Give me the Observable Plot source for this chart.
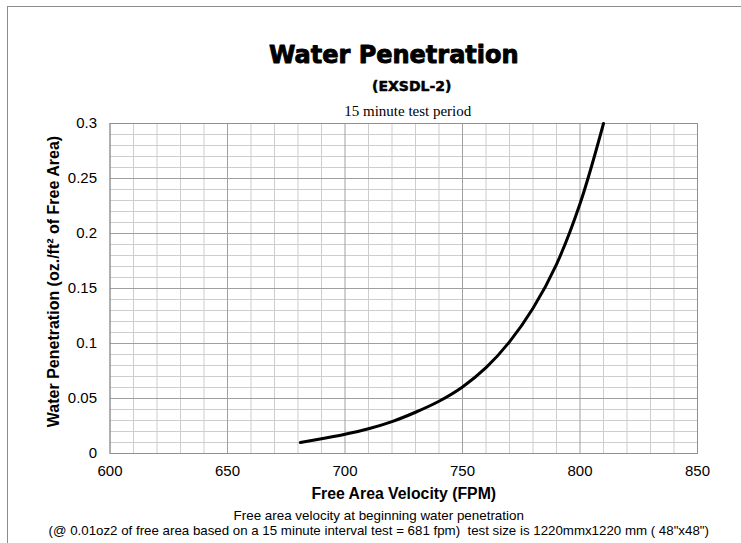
<!DOCTYPE html>
<html>
<head>
<meta charset="utf-8">
<script src="https://cdn.jsdelivr.net/npm/d3@7"></script>
<script src="https://cdn.jsdelivr.net/npm/@observablehq/plot@0.6"></script>
<style>
  html, body { margin: 0; padding: 0; background: #fff; }
  #wrap { position: relative; width: 741px; height: 543px; overflow: hidden; }
  #border { position: absolute; left: 7px; top: 6px; width: 760px; height: 560px;
            border-top: 1px solid #8c8c8c; border-left: 1px solid #8c8c8c; pointer-events: none; }
</style>
</head>
<body>
<div id="wrap"><div id="border"></div></div>
<script>
// Curve: free area velocity (FPM) vs water penetration (oz/ft² of free area)
const velocity    = [681, 690, 700, 710, 720, 730, 740, 750, 760, 770, 780, 790, 800, 810];
const penetration = [0.010, 0.0135, 0.0175, 0.0225, 0.029, 0.0375, 0.0475, 0.0605, 0.078, 0.1015, 0.132, 0.172, 0.227, 0.300];

// Ticks and grid
const xTicks = [600, 650, 700, 750, 800, 850];
const yTicks = [0, 0.05, 0.1, 0.15, 0.2, 0.25, 0.3];
const xMinor = [610, 620, 630, 640, 660, 670, 680, 690, 710, 720, 730, 740, 760, 770, 780, 790, 810, 820, 830, 840];
const yMinor = [0.01, 0.02, 0.03, 0.04, 0.06, 0.07, 0.08, 0.09, 0.11, 0.12, 0.13, 0.14, 0.16, 0.17, 0.18, 0.19, 0.21, 0.22, 0.23, 0.24, 0.26, 0.27, 0.28, 0.29];

// Text
const title = "Water Penetration";
const subtitle1 = "(EXSDL-2)";
const subtitle2 = "15 minute test period";
const xLabel = "Free Area Velocity (FPM)";
const yLabel = "Water Penetration (oz./ft² of Free Area)";
const caption1 = "Free area velocity at beginning water penetration";
const caption2 = "(@ 0.01oz2 of free area based on a 15 minute interval test = 681 fpm)  test size is 1220mmx1220 mm ( 48\"x48\")";

const data = velocity.map((v, i) => ({v, p: penetration[i]}));

const chart = Plot.plot({
  width: 741,
  height: 543,
  marginLeft: 109.5,
  marginRight: 44,
  marginTop: 123,
  marginBottom: 90,
  style: {fontFamily: "'Liberation Sans', Arial, sans-serif", fontSize: "15px", color: "#000", background: "transparent", overflow: "visible"},
  x: {domain: [600, 850]},
  y: {domain: [0, 0.3]},
  marks: [
    Plot.ruleX(xMinor, {stroke: "#cdcdcd", strokeWidth: 1}),
    Plot.ruleY(yMinor, {stroke: "#cdcdcd", strokeWidth: 1}),
    Plot.ruleX(xTicks, {stroke: "#a0a0a0", strokeWidth: 1}),
    Plot.ruleY(yTicks, {stroke: "#a0a0a0", strokeWidth: 1}),
    Plot.frame({stroke: "#909090"}),
    Plot.axisX({ticks: xTicks, tickSize: 0, tickPadding: 12, fontSize: 15, label: null, tickFormat: d => String(d)}),
    Plot.axisY({ticks: yTicks, tickSize: 0, tickPadding: 13, fontSize: 15, label: null, tickFormat: d => String(d)}),
    Plot.line(data, {x: "v", y: "p", stroke: "#000", strokeWidth: 3, curve: "catmull-rom"}),
    Plot.text([title], {frameAnchor: "top", dx: -10, dy: -61, lineAnchor: "bottom", fontSize: 24, fontWeight: "bold", fontFamily: "'DejaVu Sans', sans-serif", fill: "#000", stroke: "#000", strokeWidth: 0.9}),
    Plot.text([subtitle1], {frameAnchor: "top", dx: 8, dy: -33, lineAnchor: "bottom", fontSize: 14, fontWeight: "bold", fontFamily: "'DejaVu Sans', sans-serif", fill: "#000", stroke: "#000", strokeWidth: 0.5}),
    Plot.text([subtitle2], {frameAnchor: "top", dx: 4, dy: -8, lineAnchor: "bottom", fontSize: 15, fontFamily: "'Liberation Serif', 'Times New Roman', serif", fill: "#000"}),
    Plot.text([xLabel], {frameAnchor: "bottom", dy: 45, lineAnchor: "bottom", fontSize: 15.8, fontWeight: "bold", fill: "#000"}),
    Plot.text([yLabel], {frameAnchor: "left", textAnchor: "middle", dx: -51.5, dy: -7, rotate: -90, lineAnchor: "bottom", fontSize: 16, fontWeight: "bold", fill: "#000"}),
    Plot.text([caption1], {frameAnchor: "bottom", dx: -25, dy: 66, lineAnchor: "bottom", fontSize: 13.4, fill: "#000"}),
    Plot.text([caption2], {frameAnchor: "bottom", dx: -25, dy: 81, lineAnchor: "bottom", fontSize: 13.3, fill: "#000"})
  ]
});
document.getElementById("wrap").prepend(chart);
</script>
</body>
</html>
